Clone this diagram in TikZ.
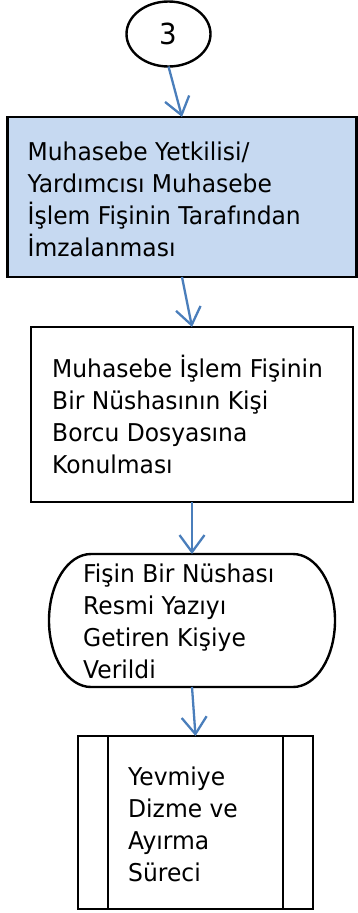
\documentclass[tikz,border=0pt]{standalone}
\usepackage{fontspec}
\setmainfont{DejaVu Sans}[FakeStretch=0.955]
\usetikzlibrary{arrows.meta,shapes.geometric}
\definecolor{boxblue}{HTML}{C6D9F1}
\definecolor{arrowblue}{HTML}{4A7EBB}
\begin{document}
\begin{tikzpicture}[x=1pt,y=1pt,
  shapeline/.style={draw=black, line width=2.4pt},
  procbox/.style={shapeline, rectangle, outer sep=0pt, inner sep=0pt},
  txt/.style={align=left, inner sep=0pt, font=\fontsize{24.5}{32}\selectfont},
  arr/.style={draw=arrowblue, line width=2.3pt, -{Straight Barb[length=17pt,width=25pt]}}]
\useasboundingbox (0,0) rectangle (358,-913);
% connector circle
\node[ellipse, shapeline, minimum width=84pt, minimum height=65pt, inner sep=0pt, outer sep=0pt,
  font=\fontsize{29}{32}\selectfont] (c3) at (168.5,-34) {3};
% box 1
\node[procbox, fill=boxblue, minimum width=349pt, minimum height=160pt] (b1) at (182,-197) {};
\node[txt, anchor=west] (t1) at ([xshift=20pt,yshift=-2pt]b1.west)
  {Muhasebe Yetkilisi/\\Yardımcısı Muhasebe\\İşlem Fişinin Tarafından\\İmzalanması};
% box 2
\node[procbox, minimum width=322pt, minimum height=175pt] (b2) at (192,-414.5) {};
\node[txt, anchor=west] (t2) at ([xshift=21pt,yshift=0pt]b2.west)
  {Muhasebe İşlem Fişinin\\Bir Nüshasının Kişi\\Borcu Dosyasına\\Konulması};
% terminal
\node[rectangle, outer sep=0pt, inner sep=0pt, minimum width=286pt, minimum height=133pt] (term) at (192,-620.5) {};
\draw[shapeline] ([xshift=42pt]term.north west) -- ([xshift=-42pt]term.north east)
  arc[start angle=90, end angle=-90, x radius=42pt, y radius=66.5pt]
  -- ([xshift=42pt]term.south west)
  arc[start angle=270, end angle=90, x radius=42pt, y radius=66.5pt] -- cycle;
\node[txt, anchor=west] (t3) at ([xshift=34pt,yshift=-1pt]term.west)
  {Fişin Bir Nüshası\\Resmi Yazıyı\\Getiren Kişiye\\Verildi};
% predefined process
\node[procbox, minimum width=235pt, minimum height=173pt] (pp) at (195.5,-822.5) {};
\draw[shapeline] ([xshift=30pt]pp.north west) -- ([xshift=30pt]pp.south west);
\draw[shapeline] ([xshift=-30pt]pp.north east) -- ([xshift=-30pt]pp.south east);
\node[txt, anchor=west] (t4) at ([xshift=50pt,yshift=-1.5pt]pp.west)
  {Yevmiye\\Dizme ve\\Ayırma\\Süreci};
% connectors
\draw[arr] (c3.south) -- (b1.north);
\draw[arr] (b1.south) -- (b2.north);
\draw[arr] (b2.south) -- (term.north);
\draw[arr] (term.south) -- (pp.north);
\end{tikzpicture}
\end{document}
